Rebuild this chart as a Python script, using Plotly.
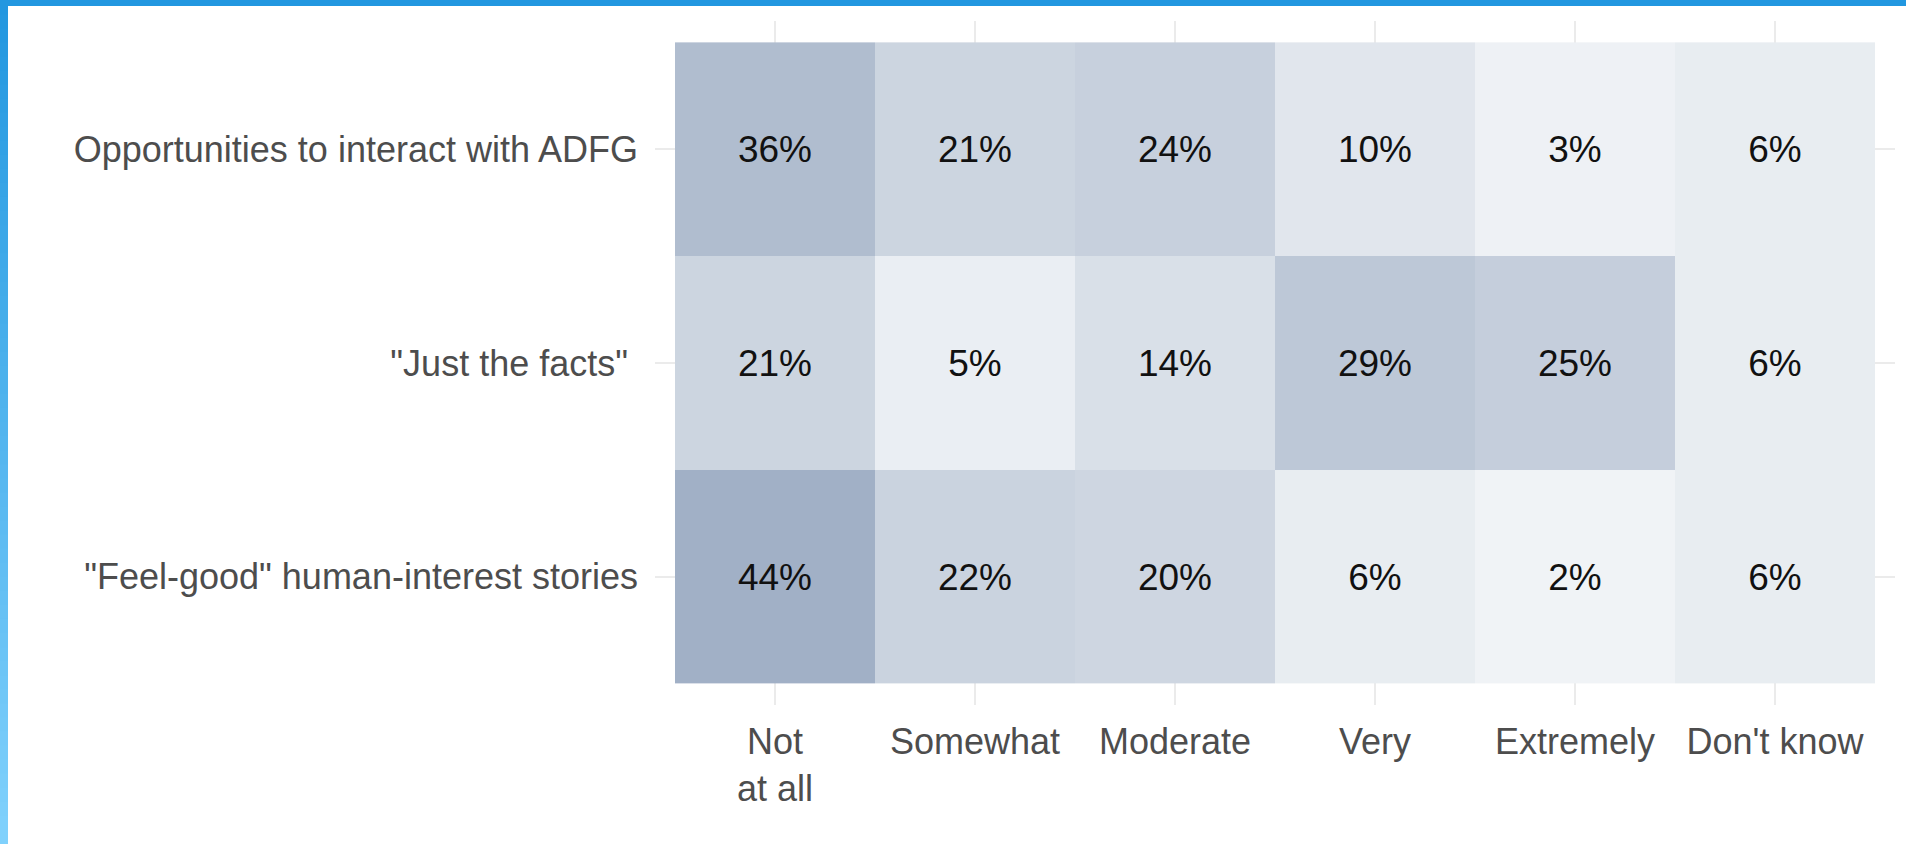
import plotly.graph_objects as go

# response categories (columns) and statements (rows, bottom to top)
categorias = ["Not<br>at all", "Somewhat", "Moderate", "Very", "Extremely", "Don't know"]
itens = ['"Feel-good" human-interest stories',
         '"Just the facts"\u00a0',
         'Opportunities to interact with ADFG']

pct_feel_good = [44, 22, 20, 6, 2, 6]
pct_just_facts = [21, 5, 14, 29, 25, 6]
pct_interact = [36, 21, 24, 10, 3, 6]

valores = [pct_feel_good, pct_just_facts, pct_interact]
textos = [[f"{v}%" for v in linha] for linha in valores]

fonte = "Liberation Sans, Arial, sans-serif"

W, H = 1906, 844
ml, mr, mt, mb = 655, 11, 21, 139
pw, ph = W - ml - mr, H - mt - mb

fig = go.Figure()

fig.add_trace(go.Heatmap(
    x=categorias, y=itens, z=valores,
    text=textos, texttemplate="%{text}",
    textfont=dict(family=fonte, size=37, color="#111111"),
    colorscale=[[0, "#f0f3f6"], [1, "#a1b0c6"]],
    zmin=2, zmax=44, showscale=False, hoverinfo="skip",
))

# blue frame: solid top bar, gradient on the left edge
def px_x(p):
    return (p - ml) / pw

def px_y(q):
    return (H - mb - q) / ph

fig.add_shape(type="rect", xref="paper", yref="paper",
              x0=px_x(0), x1=px_x(W), y0=px_y(0), y1=px_y(6),
              fillcolor="#2297e0", line_width=0, layer="above")
c0 = (34, 151, 224)
c1 = (128, 209, 252)
n = 60
for i in range(n):
    t = i / (n - 1)
    cor = "rgb(%d,%d,%d)" % tuple(round(a + (b - a) * t) for a, b in zip(c0, c1))
    fig.add_shape(type="rect", xref="paper", yref="paper",
                  x0=px_x(0), x1=px_x(8),
                  y0=px_y(H * i / n), y1=px_y(H * (i + 1) / n + 1),
                  fillcolor=cor, line_width=0, layer="above")

fig.update_layout(
    width=W, height=H,
    margin=dict(l=ml, r=mr, t=mt, b=mb),
    plot_bgcolor="white", paper_bgcolor="white",
    font=dict(family=fonte, size=36, color="#4d4d4d"),
    xaxis=dict(range=[-0.6, 5.6], showgrid=True, gridcolor="#ebebeb", gridwidth=2,
               zeroline=False, ticks="", ticklabelstandoff=12,
               tickfont=dict(family=fonte, size=36, color="#4d4d4d")),
    yaxis=dict(range=[-0.6, 2.6], showgrid=True, gridcolor="#ebebeb", gridwidth=2,
               zeroline=False, ticks="", ticklabelstandoff=16,
               tickfont=dict(family=fonte, size=36, color="#4d4d4d")),
)

# drop the default page margin so the figure sits at the window corner
fig.write_html("out.html", config={"displayModeBar": False},
               post_script="document.body.style.margin='0';")
